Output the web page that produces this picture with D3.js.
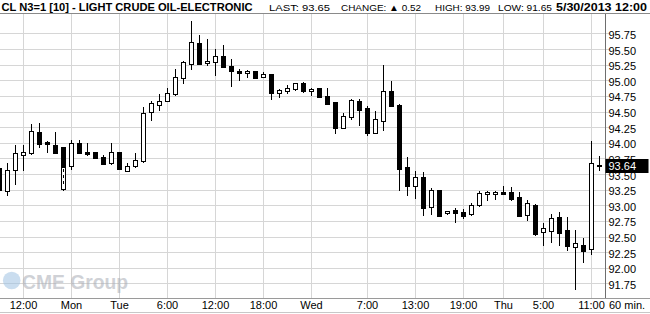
<!DOCTYPE html>
<html>
<head>
<meta charset="utf-8">
<script src="https://cdn.jsdelivr.net/npm/d3@7"></script>
<style>
  body { margin: 0; background: #fff; }
  svg text { font-family: "Liberation Sans", Arial, sans-serif; }
</style>
</head>
<body>
<div id="chart"></div>
<script>
// Chart data: 60 min bars, barIndex = slot on the x axis
// (slot 7 holds two overlapping bars, the weekend reopen)
var barIndex = [-1, 0, 1, 2, 3, 4, 5, 6, 7, 7, 8, 9,
  10, 11, 12, 13, 14, 15, 16, 17, 18, 19,
  20, 21, 22, 23, 24, 25, 26, 27, 28, 29,
  30, 31, 32, 33, 34, 35, 36, 37, 38, 39,
  40, 41, 42, 43, 44, 45, 46, 47, 48, 49,
  50, 51, 52, 53, 54, 55, 56, 57, 58, 59,
  60, 61, 62, 63, 64, 65, 66, 67, 68, 69,
  70, 71, 72, 73, 74];

var openVals = [93.59, 93.23, 93.56, 93.81, 93.84, 94.18, 94.01, 93.97, 93.93, 93.27, 93.63, 94.00,
  93.86, 93.85, 93.78, 93.68, 93.85, 93.55, 93.63, 93.71, 94.48, 94.61,
  94.66, 94.78, 95.04, 95.27, 95.60, 95.28, 95.30, 95.39, 95.23, 95.15,
  95.11, 95.15, 95.05, 95.10, 94.79, 94.82, 94.86, 94.95, 94.82, 94.87,
  94.75, 94.65, 94.24, 94.42, 94.67, 94.55, 94.15, 94.35, 94.83, 94.61,
  93.61, 93.31, 93.46, 92.98, 93.25, 92.87, 92.92, 92.90, 92.86, 92.99,
  93.18, 93.18, 93.22, 93.22, 93.14, 92.83, 93.01, 92.57, 92.59, 92.82,
  92.61, 92.33, 92.37, 92.29, 93.64];

var highVals = [93.59, 93.69, 93.97, 93.97, 94.31, 94.33, 94.03, 94.18, 93.93, 93.62, 94.06, 94.05,
  94.01, 93.85, 93.81, 94.00, 93.85, 93.68, 93.85, 94.58, 94.68, 94.79,
  94.89, 95.19, 95.32, 95.96, 95.73, 95.67, 95.51, 95.57, 95.35, 95.19,
  95.17, 95.15, 95.14, 95.10, 94.87, 94.93, 94.97, 94.98, 94.89, 94.87,
  94.88, 94.65, 94.48, 94.71, 94.71, 94.60, 94.52, 95.25, 94.99, 94.63,
  93.78, 93.56, 93.54, 93.28, 93.25, 92.91, 92.97, 92.95, 93.05, 93.24,
  93.24, 93.24, 93.32, 93.30, 93.22, 93.09, 93.03, 92.72, 92.87, 92.90,
  92.82, 92.61, 92.48, 94.03, 93.80];

var lowVals = [93.23, 93.16, 93.33, 93.56, 93.82, 93.92, 93.84, 93.84, 93.62, 93.24, 93.57, 93.84,
  93.80, 93.76, 93.67, 93.66, 93.57, 93.55, 93.61, 93.68, 94.36, 94.51,
  94.66, 94.75, 94.95, 95.18, 95.26, 95.23, 95.07, 95.22, 94.90, 95.00,
  95.04, 95.04, 95.04, 94.70, 94.73, 94.79, 94.83, 94.80, 94.76, 94.72,
  94.62, 94.15, 94.24, 94.38, 94.28, 94.12, 94.15, 94.19, 94.58, 93.23,
  93.16, 93.11, 92.84, 92.85, 92.84, 92.85, 92.73, 92.79, 92.84, 92.98,
  93.07, 93.10, 93.18, 93.07, 92.83, 92.75, 92.51, 92.35, 92.40, 92.35,
  92.27, 91.65, 92.09, 92.22, 93.55];

var closeVals = [93.23, 93.56, 93.83, 93.86, 94.19, 93.99, 93.97, 93.84, 93.62, 93.62, 94.00, 93.84,
  93.82, 93.76, 93.67, 93.86, 93.57, 93.63, 93.73, 94.48, 94.63, 94.67,
  94.79, 95.06, 95.30, 95.62, 95.27, 95.31, 95.39, 95.22, 95.15, 95.11,
  95.15, 95.04, 95.10, 94.79, 94.84, 94.87, 94.95, 94.82, 94.86, 94.72,
  94.62, 94.23, 94.43, 94.69, 94.52, 94.15, 94.38, 94.83, 94.59, 93.58,
  93.31, 93.45, 92.97, 93.25, 92.84, 92.91, 92.87, 92.84, 93.01, 93.19,
  93.22, 93.22, 93.18, 93.11, 92.83, 93.03, 92.54, 92.63, 92.80, 92.57,
  92.35, 92.39, 92.28, 93.67, 93.65];

// x axis labels and the bar slot each sits on
var xTickSlots = [2, 8, 14, 20, 26, 32, 38, 45, 51, 57, 62, 67, 73];
var xTickLabels = ["12:00", "Mon", "Tue", "6:00", "12:00", "18:00", "Wed",
  "7:00", "13:00", "19:00", "Thu", "5:00", "11:00"];

// y axis tick values
var yTicks = [91.75, 92.00, 92.25, 92.50, 92.75, 93.00, 93.25, 93.50, 93.75,
  94.00, 94.25, 94.50, 94.75, 95.00, 95.25, 95.50, 95.75];

var lastPrice = 93.64;

// header pieces
var titleText = "CL N3=1 [10] - LIGHT CRUDE OIL-ELECTRONIC";
var infoLabels = ["LAST: 93.65", "CHANGE: \u25B2 0.52", "HIGH: 93.99", "LOW: 91.65"];
var dateText = "5/30/2013 12:00";

var svgWidth = 650;
var svgHeight = 314;

var plotTop = 13.5;
var plotBottom = 298.5;
var plotRight = 605.5;

var svg = d3.select("#chart")
  .append("svg")
  .attr("width", svgWidth)
  .attr("height", svgHeight)
  .style("display", "block");

svg.append("rect")
  .attr("width", svgWidth)
  .attr("height", svgHeight)
  .attr("fill", "#fff");

// scales
var xScale = d3.scaleLinear()
  .domain([0, 74])
  .range([7.5, 599.5]);

var yScale = d3.scaleLinear()
  .domain([91.5, 95.75])
  .range([299.5, 33.9]);

function crisp(v) { return Math.round(v - 0.5) + 0.5; }

// clip so the first bar is cut at the left edge
svg.append("clipPath").attr("id", "plotClip")
  .append("rect")
  .attr("x", 0).attr("y", plotTop)
  .attr("width", plotRight).attr("height", plotBottom - plotTop);

var gridGroup = svg.append("g").attr("shape-rendering", "crispEdges");

// horizontal grid
gridGroup.selectAll(".hgrid")
  .data(yTicks)
  .enter()
  .append("line")
  .attr("x1", 0)
  .attr("x2", plotRight + 3)
  .attr("y1", d => crisp(yScale(d)))
  .attr("y2", d => crisp(yScale(d)))
  .attr("stroke", "#d6d6d6")
  .attr("stroke-width", 1);

// vertical grid
gridGroup.selectAll(".vgrid")
  .data(xTickSlots)
  .enter()
  .append("line")
  .attr("x1", d => xScale(d))
  .attr("x2", d => xScale(d))
  .attr("y1", plotTop)
  .attr("y2", plotBottom)
  .attr("stroke", "#d6d6d6")
  .attr("stroke-width", 1);

// CME Group watermark
var mark = svg.append("g").attr("opacity", 0.55);
mark.append("circle")
  .attr("cx", 11.7)
  .attr("cy", 280.5)
  .attr("r", 8.8)
  .attr("fill", "#9fc3e3");
mark.append("text")
  .attr("x", 22)
  .attr("y", 288.5)
  .attr("font-size", 21)
  .attr("font-weight", "bold")
  .attr("fill", "#a9adb5")
  .attr("textLength", 106)
  .attr("lengthAdjust", "spacingAndGlyphs")
  .text("CME Group");

// candles
var bars = barIndex.map(function(k, i) {
  return { k: k, o: openVals[i], h: highVals[i], l: lowVals[i], c: closeVals[i],
    dup: i > 0 && barIndex[i - 1] === k };
});

var candleGroup = svg.append("g")
  .attr("clip-path", "url(#plotClip)")
  .attr("shape-rendering", "crispEdges");

var candle = candleGroup.selectAll(".candle")
  .data(bars)
  .enter()
  .append("g");

candle.append("line")
  .attr("x1", d => xScale(d.k))
  .attr("x2", d => xScale(d.k))
  .attr("y1", d => Math.round(yScale(d.h)))
  .attr("y2", d => Math.round(yScale(d.l)))
  .attr("stroke", "#000")
  .attr("stroke-width", 1);

candle.append("rect")
  .attr("x", d => xScale(d.k) - 2)
  .attr("width", 4)
  .attr("y", d => crisp(yScale(Math.max(d.o, d.c))))
  .attr("height", d => Math.max(1, Math.round(Math.abs(yScale(d.o) - yScale(d.c)))))
  .attr("fill", d => d.c >= d.o ? "#fff" : "#000")
  .attr("stroke", "#000")
  .attr("stroke-width", 1);

// the overlapped bar shows its wick through the body
candle.filter(d => d.dup)
  .append("line")
  .attr("x1", d => xScale(d.k))
  .attr("x2", d => xScale(d.k))
  .attr("y1", d => Math.round(yScale(d.c)) + 2)
  .attr("y2", d => Math.round(yScale(d.o)) - 2)
  .attr("stroke", "#000")
  .attr("stroke-dasharray", "3,3");

// frame
var frame = svg.append("g").attr("shape-rendering", "crispEdges");
frame.append("line")
  .attr("x1", 0).attr("x2", svgWidth)
  .attr("y1", plotTop).attr("y2", plotTop)
  .attr("stroke", "#8a8a8a");
frame.append("line")
  .attr("x1", plotRight).attr("x2", plotRight)
  .attr("y1", plotTop).attr("y2", plotBottom)
  .attr("stroke", "#6e6e6e");
frame.append("line")
  .attr("x1", 0).attr("x2", svgWidth)
  .attr("y1", plotBottom).attr("y2", plotBottom)
  .attr("stroke", "#9a9a9a");
frame.append("line")
  .attr("x1", 0).attr("x2", svgWidth)
  .attr("y1", 312.5).attr("y2", 312.5)
  .attr("stroke", "#c8c8c8");

// y axis labels
svg.selectAll(".ylab")
  .data(yTicks)
  .enter()
  .append("text")
  .attr("x", 608.5)
  .attr("y", d => yScale(d) + 5)
  .attr("font-size", 11)
  .attr("fill", "#000")
  .text(d => d.toFixed(2));

// last price marker
svg.append("rect")
  .attr("x", plotRight)
  .attr("y", Math.round(yScale(lastPrice)) - 7)
  .attr("width", 43)
  .attr("height", 14)
  .attr("fill", "#000");
svg.append("text")
  .attr("x", 608.5)
  .attr("y", yScale(lastPrice) + 4.5)
  .attr("font-size", 11)
  .attr("fill", "#fff")
  .text(lastPrice.toFixed(2));

// x axis labels
svg.selectAll(".xlab")
  .data(xTickSlots)
  .enter()
  .append("text")
  .attr("x", d => xScale(d))
  .attr("y", 308.5)
  .attr("text-anchor", "middle")
  .attr("font-size", 11)
  .attr("fill", "#000")
  .text((d, i) => xTickLabels[i]);

svg.append("text")
  .attr("x", 609)
  .attr("y", 308.5)
  .attr("font-size", 11)
  .attr("fill", "#000")
  .text("60 min.");

// header
svg.append("text")
  .attr("x", 1.5)
  .attr("y", 11)
  .attr("font-size", 11.5)
  .attr("font-weight", "bold")
  .attr("textLength", 251)
  .attr("lengthAdjust", "spacingAndGlyphs")
  .text(titleText);

var infoX = [269, 341, 435, 498];
var infoW = [61, 80, 55, 54];
svg.selectAll(".info")
  .data(infoLabels)
  .enter()
  .append("text")
  .attr("x", (d, i) => infoX[i])
  .attr("y", 10.5)
  .attr("font-size", 9.5)
  .attr("fill", "#000")
  .attr("textLength", (d, i) => infoW[i])
  .attr("lengthAdjust", "spacingAndGlyphs")
  .text(d => d);

svg.append("text")
  .attr("x", 556)
  .attr("y", 11)
  .attr("font-size", 11.5)
  .attr("font-weight", "bold")
  .attr("textLength", 91)
  .attr("lengthAdjust", "spacingAndGlyphs")
  .text(dateText);
</script>
</body>
</html>
